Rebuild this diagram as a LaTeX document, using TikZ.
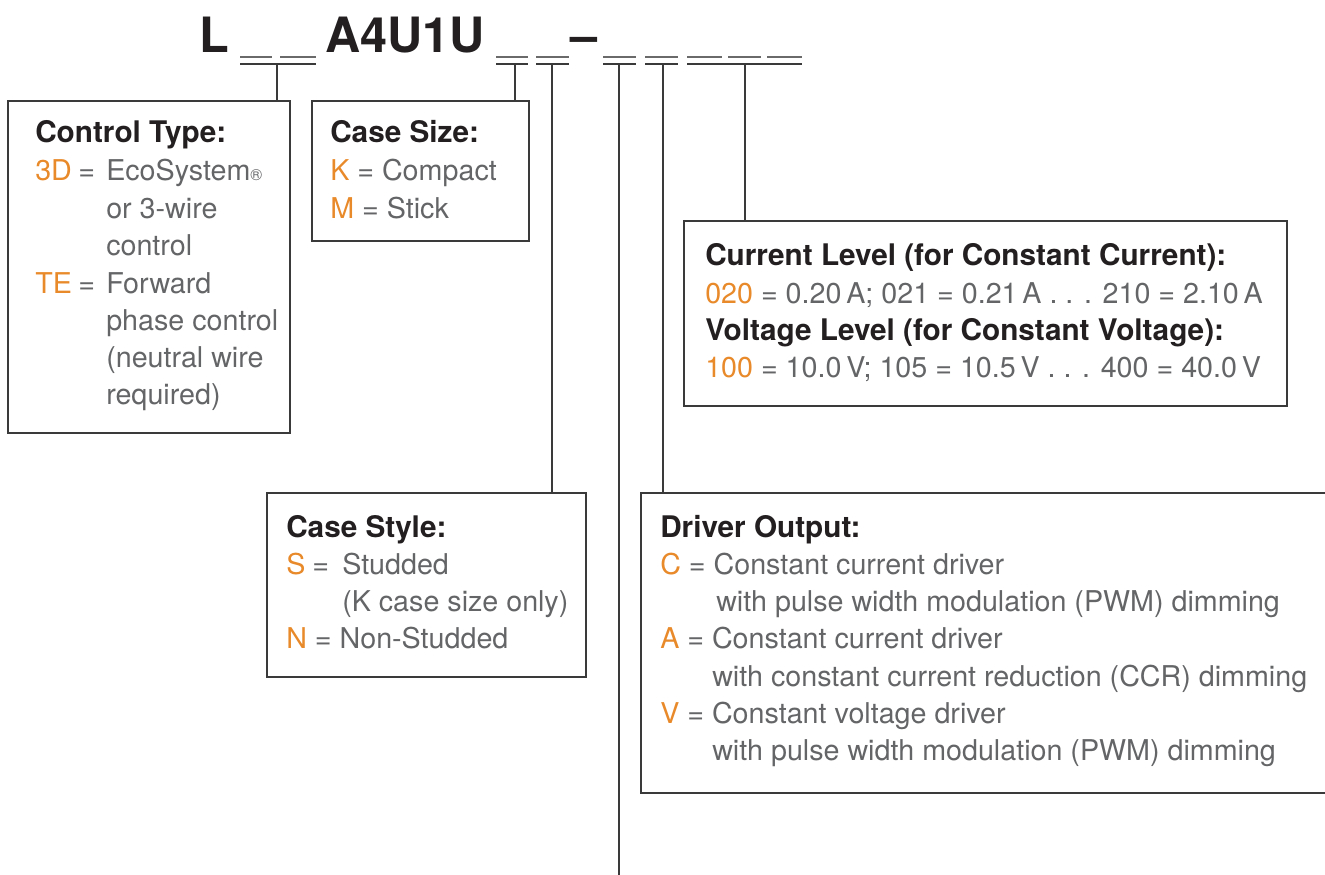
\documentclass[tikz,border=0pt]{standalone}
\usepackage{fontspec}
\setmainfont{TeX Gyre Heros}
\usetikzlibrary{fit}
\definecolor{orng}{HTML}{E8892A}
\definecolor{txtgray}{HTML}{646567}
\definecolor{headblk}{HTML}{231F20}
\definecolor{linegray}{HTML}{3A3A3A}
\definecolor{ulgray}{HTML}{6A6A6A}
\newcommand{\ky}[1]{\textcolor{orng}{#1}}
\begin{document}
\begin{tikzpicture}[x=0.75pt,y=-0.75pt,
  box/.style={draw=linegray, line width=1.1pt, inner sep=0pt},
  conn/.style={draw=linegray, line width=1.4pt},
  ul/.style={draw=ulgray, line width=0.9pt},
  brk/.style={draw=linegray, line width=1.3pt},
  txt/.style={anchor=base west, inner sep=0pt, font=\fontsize{21.5}{25}\selectfont, text=txtgray},
  hd/.style={anchor=base west, inner sep=0pt, font=\fontsize{22.3}{26}\selectfont\bfseries, text=headblk},
  key/.style={txt, text=orng},
  ttl/.style={anchor=base west, inner sep=0pt, font=\fontsize{36.5}{40}\selectfont\bfseries, text=headblk}]
\useasboundingbox (0,0) rectangle (1325,875);

% ---- title ----
\node[ttl] (tL) at (199,52) {L};
\node[ttl] (tA) at (325,52) {A4U1U};
\node[ttl] (tD) at (570,52) {–};

% ---- underscore slots ----
\draw[ul] (240,57) -- (272,57) (280,57) -- (316,57);
\draw[brk] (240,64) -- (316,64);
\draw[ul] (496,57) -- (528,57);
\draw[brk] (496,64) -- (528,64);
\draw[ul] (536,57) -- (569,57);
\draw[brk] (536,64) -- (569,64);
\draw[ul] (603,57) -- (636,57);
\draw[brk] (603,64) -- (636,64);
\draw[ul] (645,57) -- (678,57);
\draw[brk] (645,64) -- (678,64);
\draw[ul] (687,57) -- (722,57) (728,57) -- (761,57) (767,57) -- (802,57);
\draw[brk] (687,64) -- (802,64);

\coordinate (g1) at (277,64);
\coordinate (g2) at (515,64);
\coordinate (g3) at (552,64);
\coordinate (g4) at (619,64);
\coordinate (g5) at (663,64);
\coordinate (g6) at (745,64);
\coordinate (gend) at (619,875);

% ---- boxes ----
\node[box, fit={(8,101) (290,433)}] (ct) {};
\node[box, fit={(312,101) (529,241)}] (cs) {};
\node[box, fit={(684,221) (1287,406)}] (cl) {};
\node[box, fit={(267,493) (586,677)}] (cy) {};
\node[box, fit={(641,493) (1335,793)}] (dr) {};

% ---- connectors ----
\draw[conn] (g1) -- (g1 |- ct.north);
\draw[conn] (g2) -- (g2 |- cs.north);
\draw[conn] (g3) -- (g3 |- cy.north);
\draw[conn] (g4) -- (gend);
\draw[conn] (g5) -- (g5 |- dr.north);
\draw[conn] (g6) -- (g6 |- cl.north);

% ---- Control Type ----
\node[hd] (ct0) at (35,142) {Control Type:};
\node[key] (ct1k) at (35,180) {3D};
\node[txt] (ct1e) at (78,180) {=};
\node[txt] (ct1) at (106,180) {EcoSystem{\fontsize{12}{12}\selectfont\textregistered}};
\node[txt] (ct2) at (106,218) {or 3-wire};
\node[txt] (ct3) at (106,255) {control};
\node[key] (ct4k) at (35,293) {TE};
\node[txt] (ct4e) at (78,293) {=};
\node[txt] (ct4) at (106,293) {Forward};
\node[txt] (ct5) at (106,330) {phase control};
\node[txt] (ct6) at (106,367) {(neutral wire};
\node[txt] (ct7) at (106,404) {required)};

% ---- Case Size ----
\node[hd] (cs0) at (330,142) {Case Size:};
\node[txt] (cs1) at (330,180) {\ky{K} = Compact};
\node[txt] (cs2) at (330,218) {\ky{M} = Stick};

% ---- Current / Voltage Level ----
\node[hd] (cl0) at (705,265) {Current Level (for Constant Current):};
\node[txt] (cl1) at (705,303) {\ky{020} = 0.20\,A; 021 = 0.21\,A . . . 210 = 2.10\,A};
\node[hd] (cl2) at (705,340) {Voltage Level (for Constant Voltage):};
\node[txt] (cl3) at (705,377) {\ky{100} = 10.0\,V; 105 = 10.5\,V . . . 400 = 40.0\,V};

% ---- Case Style ----
\node[hd] (cy0) at (286,537) {Case Style:};
\node[key] (cy1k) at (286,574) {S};
\node[txt] (cy1e) at (312,574) {=};
\node[txt] (cy1) at (342,574) {Studded};
\node[txt] (cy2) at (342,611) {(K case size only)};
\node[txt] (cy3) at (286,648) {\ky{N} = Non-Studded};

% ---- Driver Output ----
\node[hd] (dr0) at (660,537) {Driver Output:};
\node[txt] (dr1) at (660,574) {\ky{C} = Constant current driver};
\node[txt] (dr2) at (716,611) {with pulse width modulation (PWM) dimming};
\node[txt] (dr3) at (660,648) {\ky{A} = Constant current driver};
\node[txt] (dr4) at (712,686) {with constant current reduction (CCR) dimming};
\node[txt] (dr5) at (660,723) {\ky{V} = Constant voltage driver};
\node[txt] (dr6) at (712,760) {with pulse width modulation (PWM) dimming};
\end{tikzpicture}
\end{document}
